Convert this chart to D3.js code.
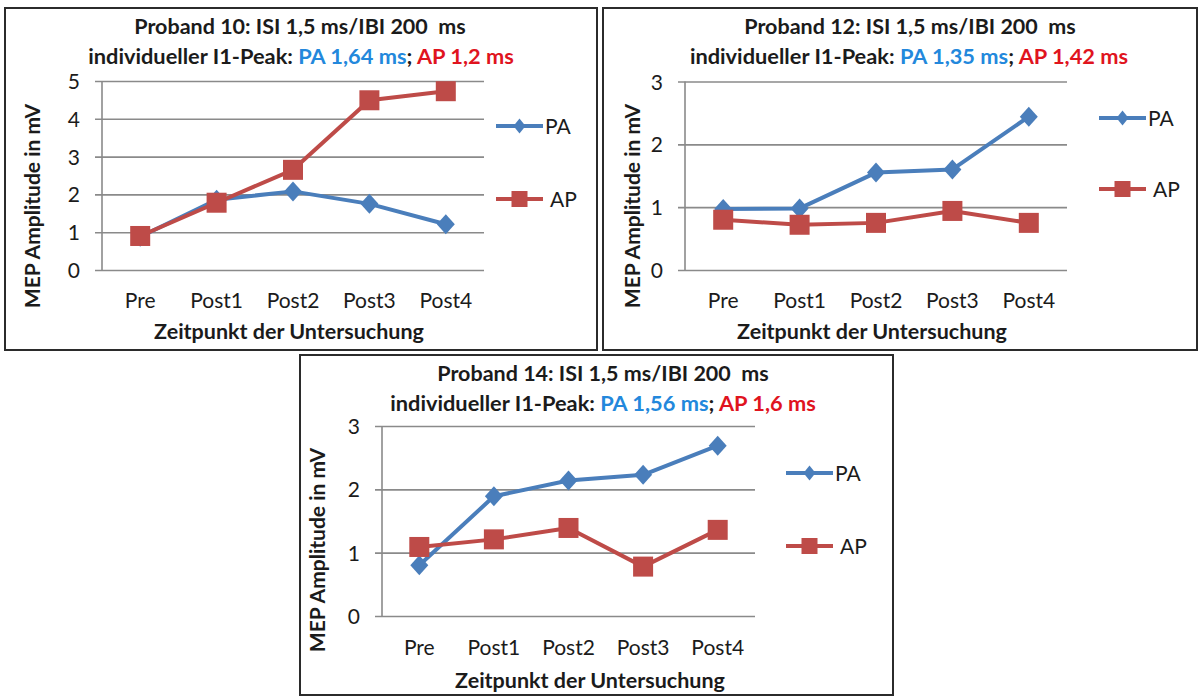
<!DOCTYPE html>
<html>
<head>
<meta charset="utf-8">
<script src="https://cdn.jsdelivr.net/npm/d3@7/dist/d3.min.js"></script>
<style>
  body { margin: 0; background: #fff; }
  svg text { font-family: Lato, "Open Sans", sans-serif; fill: #1b1b1b; white-space: pre; }
</style>
</head>
<body>
<svg id="chart" width="1200" height="697"></svg>
<script>
// categories + series
var zeitpunkte = ["Pre", "Post1", "Post2", "Post3", "Post4"];
var proband10PA = [0.88, 1.86, 2.08, 1.75, 1.21];
var proband10AP = [0.90, 1.78, 2.65, 4.49, 4.73];
var proband12PA = [0.97, 0.98, 1.55, 1.60, 2.44];
var proband12AP = [0.80, 0.72, 0.75, 0.94, 0.75];
var proband14PA = [0.80, 1.89, 2.14, 2.23, 2.69];
var proband14AP = [1.09, 1.21, 1.39, 0.78, 1.36];
var probanden = ["10", "12", "14"];
var peakPA = ["1,64", "1,35", "1,56"];
var peakAP = ["1,2", "1,42", "1,6"];
var yMax = [5, 3, 3];
var yTicks = [[0, 1, 2, 3, 4, 5], [0, 1, 2, 3], [0, 1, 2, 3]];

var blue = "#4a7ebb", red = "#be4b48";

// where each panel sits on the page
var layout = [
  { box: [5, 8, 592, 342], plot: [102, 484, 81, 270], t1: [300, 26], t2: [301, 56],
    ytx: 32, yty: 206, xly: 300, xtx: 289, xty: 331, leg: [496, 126, 199] },
  { box: [603, 8, 594, 342], plot: [685, 1067, 81.5, 270], t1: [910, 26], t2: [909, 56],
    ytx: 632, yty: 206, xly: 300, xtx: 872, xty: 331, leg: [1099, 118, 189] },
  { box: [300, 355, 593, 340], plot: [382, 755, 426, 616], t1: [603, 373], t2: [603, 403],
    ytx: 317, yty: 550, xly: 647, xtx: 590, xty: 680, leg: [786, 473, 546] }
];
var seriesPA = [proband10PA, proband12PA, proband14PA];
var seriesAP = [proband10AP, proband12AP, proband14AP];

var svg = d3.select("#chart");

layout.forEach(function (L, i) {
  var g = svg.append("g");

  g.append("rect").attr("x", L.box[0]).attr("y", L.box[1])
    .attr("width", L.box[2]).attr("height", L.box[3])
    .attr("fill", "#fff").attr("stroke", "#2b2b2b").attr("stroke-width", 2);

  var x = d3.scaleBand().domain(zeitpunkte).range([L.plot[0], L.plot[1]]);
  var y = d3.scaleLinear().domain([0, yMax[i]]).range([L.plot[3], L.plot[2]]);

  // gridlines + tick labels
  var w = L.plot[1] - L.plot[0];
  var yAx = d3.axisLeft(y).tickValues(yTicks[i]).tickSize(-w - 7)
    .tickFormat(d3.format("d")).tickPadding(0);
  var ya = g.append("g").attr("transform", "translate(" + L.plot[1] + ",0)").call(yAx);
  ya.select(".domain").remove();
  ya.selectAll(".tick line").attr("x1", 0).attr("x2", -w - 7)
    .attr("stroke", "#8a8a8a").attr("stroke-width", 1.6);
  ya.selectAll(".tick text").attr("x", -w - 22)
    .attr("dy", "0.36em").style("font-size", "21px").attr("text-anchor", "end");

  g.append("line").attr("x1", L.plot[0]).attr("x2", L.plot[0])
    .attr("y1", L.plot[2]).attr("y2", L.plot[3])
    .attr("stroke", "#8a8a8a").attr("stroke-width", 1.6);

  // category labels
  var xa = g.append("g").attr("transform", "translate(0," + L.xly + ")")
    .call(d3.axisBottom(x).tickSize(0).tickPadding(0));
  xa.select(".domain").remove();
  xa.selectAll(".tick text").attr("y", 0).attr("dy", "0.36em").style("font-size", "21px");

  // titles
  g.append("text").attr("x", L.t1[0]).attr("y", L.t1[1]).attr("dy", "0.36em")
    .attr("text-anchor", "middle").style("font-size", "21.5px").style("font-weight", "bold")
    .text("Proband " + probanden[i] + ": ISI 1,5 ms/IBI 200  ms");
  var t2 = g.append("text").attr("x", L.t2[0]).attr("y", L.t2[1]).attr("dy", "0.36em")
    .attr("text-anchor", "middle").style("font-size", "21.8px").style("font-weight", "bold");
  t2.append("tspan").text("individueller I1-Peak: ");
  t2.append("tspan").style("fill", "#2388dc").text("PA " + peakPA[i] + " ms");
  t2.append("tspan").text("; ");
  t2.append("tspan").style("fill", "#e0141e").text("AP " + peakAP[i] + " ms");

  g.append("text").attr("transform", "translate(" + L.ytx + "," + L.yty + ") rotate(-90)")
    .attr("dy", "0.36em").attr("text-anchor", "middle")
    .style("font-size", "21px").style("font-weight", "bold").text("MEP Amplitude in mV");
  g.append("text").attr("x", L.xtx).attr("y", L.xty).attr("dy", "0.36em")
    .attr("text-anchor", "middle").style("font-size", "21.5px").style("font-weight", "bold")
    .text("Zeitpunkt der Untersuchung");

  var cx = function (d, j) { return x(zeitpunkte[j]) + x.bandwidth() / 2; };
  var line = d3.line().x(cx).y(function (d) { return y(d); });

  // PA first, AP drawn on top
  g.append("path").datum(seriesPA[i]).attr("d", line).attr("fill", "none")
    .attr("stroke", blue).attr("stroke-width", 4).attr("stroke-linejoin", "round");
  g.selectAll(".pa").data(seriesPA[i]).enter().append("path")
    .attr("transform", function (d, j) { return "translate(" + cx(d, j) + "," + y(d) + ")"; })
    .attr("d", "M0,-10L9,0L0,10L-9,0Z").attr("fill", blue);

  g.append("path").datum(seriesAP[i]).attr("d", line).attr("fill", "none")
    .attr("stroke", red).attr("stroke-width", 4).attr("stroke-linejoin", "round");
  g.selectAll(".ap").data(seriesAP[i]).enter().append("rect")
    .attr("x", function (d, j) { return cx(d, j) - 10; })
    .attr("y", function (d) { return y(d) - 10; })
    .attr("width", 20).attr("height", 20).attr("fill", red);

  // legend
  var lx = L.leg[0];
  g.append("line").attr("x1", lx).attr("x2", lx + 47).attr("y1", L.leg[1]).attr("y2", L.leg[1])
    .attr("stroke", blue).attr("stroke-width", 4);
  g.append("path").attr("transform", "translate(" + (lx + 23.5) + "," + L.leg[1] + ")")
    .attr("d", "M0,-7.5L6,0L0,7.5L-6,0Z").attr("fill", blue);
  g.append("text").attr("x", lx + 49).attr("y", L.leg[1]).attr("dy", "0.36em")
    .style("font-size", "21px").text("PA");

  g.append("line").attr("x1", lx).attr("x2", lx + 47).attr("y1", L.leg[2]).attr("y2", L.leg[2])
    .attr("stroke", red).attr("stroke-width", 4);
  g.append("rect").attr("x", lx + 15.5).attr("y", L.leg[2] - 8).attr("width", 16).attr("height", 16)
    .attr("fill", red);
  g.append("text").attr("x", lx + 54).attr("y", L.leg[2]).attr("dy", "0.36em")
    .style("font-size", "21px").text("AP");
});
</script>
</body>
</html>
